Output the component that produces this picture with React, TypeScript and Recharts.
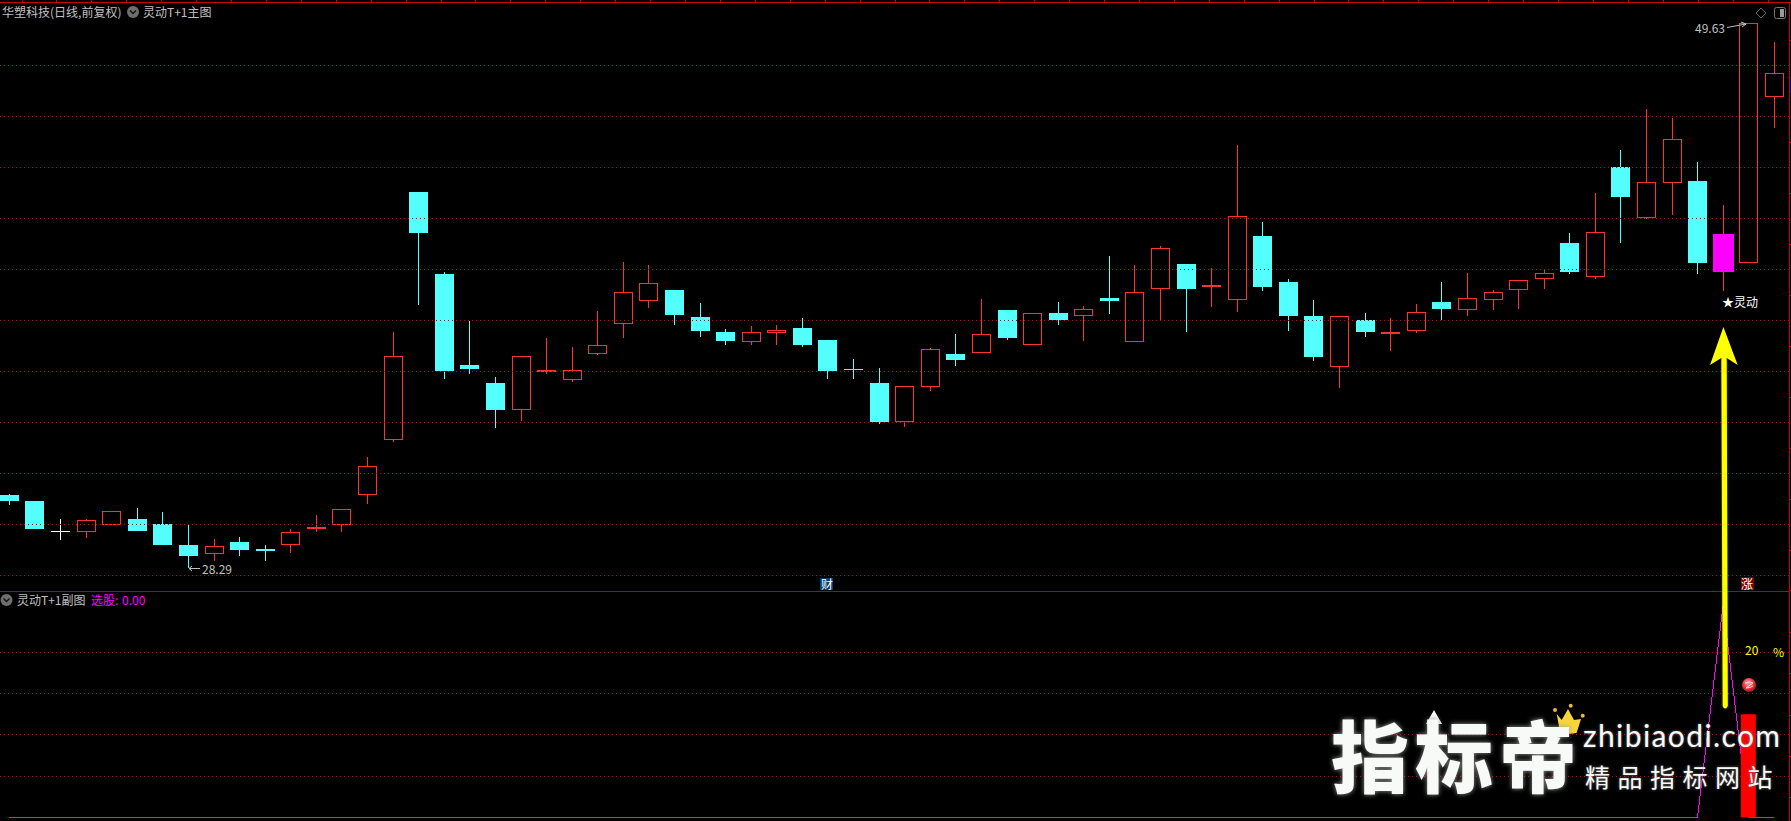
import React from 'react';
import { Bar, ComposedChart, Line, ReferenceLine, XAxis, YAxis } from 'recharts';

// daily prices, left to right
const opens = [31.16, 30.93, 29.74, 29.72, 30.0, 30.22, 30.02, 29.2, 28.86, 29.32, 29.05, 29.21, 29.83, 29.97, 31.17, 33.33, 43.02, 39.81, 36.25, 35.55, 34.5, 35.98, 35.67, 36.69, 37.87, 38.77, 39.19, 38.13, 37.54, 37.16, 37.51, 37.7, 37.23, 36.09, 35.55, 34.01, 35.4, 36.68, 36.73, 38.4, 37.05, 38.29, 38.18, 38.87, 37.16, 39.24, 40.2, 39.3, 38.81, 41.3, 39.5, 38.17, 36.18, 38.01, 37.46, 37.59, 38.72, 38.41, 38.81, 39.2, 39.63, 41.03, 39.71, 44.0, 42.02, 43.39, 43.45, 41.38, 40.26, 46.76];
const closes = [30.93, 29.83, 29.74, 30.17, 30.52, 29.75, 29.2, 28.77, 29.15, 29.01, 28.97, 29.7, 29.91, 30.6, 32.3, 36.59, 41.42, 36.02, 36.09, 34.49, 36.59, 36.05, 36.04, 37.02, 39.1, 39.45, 38.21, 37.58, 37.19, 37.53, 37.61, 37.03, 36.02, 36.05, 34.02, 35.42, 36.87, 36.45, 37.45, 37.31, 38.27, 38.01, 38.43, 38.76, 39.1, 40.82, 39.23, 39.38, 42.07, 39.3, 38.17, 36.56, 38.16, 37.54, 37.54, 38.31, 38.44, 38.86, 39.1, 39.57, 39.84, 39.89, 41.47, 42.83, 43.4, 45.09, 40.24, 39.89, 49.63, 47.67];
const highs = [31.2, 30.93, 30.22, 30.22, 30.52, 30.65, 30.49, 30.02, 29.44, 29.52, 29.2, 29.83, 30.38, 30.6, 32.65, 37.54, 43.02, 39.89, 37.97, 35.78, 36.59, 37.31, 36.95, 38.36, 40.28, 40.17, 39.19, 38.68, 37.66, 37.78, 37.82, 38.09, 37.23, 36.48, 36.13, 35.42, 36.92, 37.46, 38.83, 38.4, 38.27, 38.72, 38.56, 40.52, 40.17, 40.91, 40.2, 40.05, 44.86, 41.85, 39.62, 38.79, 38.16, 38.29, 38.09, 38.64, 39.5, 39.85, 39.19, 39.57, 39.97, 41.42, 42.98, 44.67, 46.27, 45.92, 44.2, 42.53, 49.63, 48.9];
const lows = [30.77, 29.83, 29.41, 29.48, 30.0, 29.75, 29.2, 28.29, 28.58, 28.77, 28.58, 28.89, 29.71, 29.71, 30.81, 33.25, 38.6, 35.7, 35.9, 33.78, 34.06, 35.9, 35.58, 36.64, 37.31, 38.48, 37.82, 37.35, 37.03, 37.03, 37.03, 36.95, 35.7, 35.7, 33.94, 33.82, 35.23, 36.21, 36.73, 37.23, 37.05, 37.82, 37.19, 38.25, 37.16, 38.01, 37.54, 38.52, 38.32, 39.15, 37.58, 36.41, 35.35, 37.35, 36.8, 37.5, 38.01, 38.17, 38.4, 38.44, 39.24, 39.81, 39.63, 41.03, 41.98, 42.12, 39.81, 39.15, 40.26, 45.53];

// the only day flagged by the formula (magenta candle)
const signalDay = 67;

const mainGridPrices = [47.98, 45.98, 43.98, 41.99, 39.99, 38.0, 36.0, 34.0, 32.0, 30.0, 28.01];
const subGridValues = [5, 10, 15, 20];

// lower panel: purple line + red bar
const subLineValues = [0, 0, 0, 0, 0, 0, 0, 0, 0, 0, 0, 0, 0, 0, 0, 0, 0, 0, 0, 0, 0, 0, 0, 0, 0, 0, 0, 0, 0, 0, 0, 0, 0, 0, 0, 0, 0, 0, 0, 0, 0, 0, 0, 0, 0, 0, 0, 0, 0, 0, 0, 0, 0, 0, 0, 0, 0, 0, 0, 0, 0, 0, 0, 0, 0, 0, 0, 25.7, 0, 0];
const subBarValues = [0, 0, 0, 0, 0, 0, 0, 0, 0, 0, 0, 0, 0, 0, 0, 0, 0, 0, 0, 0, 0, 0, 0, 0, 0, 0, 0, 0, 0, 0, 0, 0, 0, 0, 0, 0, 0, 0, 0, 0, 0, 0, 0, 0, 0, 0, 0, 0, 0, 0, 0, 0, 0, 0, 0, 0, 0, 0, 0, 0, 0, 0, 0, 0, 0, 0, 0, 0, 12.5, 0];

const RED = '#ff3232';
const CYAN = '#54ffff';
const GRID = '#c80000';
const GREY = '#c0c0c0';
const CJK = '"Noto Sans CJK SC", sans-serif';
const AXIS_PADDING = { left: 0.4, right: 3 };

const candles = opens.map((open, i) => ({
  day: i,
  open,
  close: closes[i],
  high: highs[i],
  low: lows[i],
  range: [lows[i], highs[i]],
}));
const subData = subLineValues.map((value, i) => ({ day: i, value, bar: subBarValues[i] }));

function Candle(props: any) {
  const { x, y, width, height, payload } = props;
  const { open, close, high, low, day } = payload;
  const perUnit = height / (high - low);
  const toY = (price: number) => y + (high - price) * perUnit;
  const cx = Math.round(x + width / 2);
  const top = Math.round(toY(Math.max(open, close)));
  const bottom = Math.round(toY(Math.min(open, close)));
  const left = cx - 9;
  const wick = { x1: cx + 0.5, x2: cx + 0.5 };

  if (open === close) {
    return (
      <g shapeRendering="crispEdges">
        <line {...wick} y1={y} y2={y + height} stroke="#fff" />
        <line x1={left} x2={left + 19} y1={top + 0.5} y2={top + 0.5} stroke="#fff" />
      </g>
    );
  }
  if (day === signalDay) {
    return (
      <g shapeRendering="crispEdges">
        <line {...wick} y1={y} y2={y + height} stroke={RED} />
        <rect x={left - 1} y={top} width={21} height={bottom - top} fill="#ff00ff" />
      </g>
    );
  }
  if (close < open) {
    return (
      <g shapeRendering="crispEdges">
        <line {...wick} y1={y} y2={y + height} stroke={CYAN} />
        <rect x={left} y={top} width={19} height={Math.max(bottom - top, 1)} fill={CYAN} />
      </g>
    );
  }
  // rising days are hollow, the box hides the wick behind it
  return (
    <g shapeRendering="crispEdges">
      <line {...wick} y1={y} y2={top} stroke={RED} />
      <line {...wick} y1={bottom} y2={y + height} stroke={RED} />
      <rect x={left + 0.5} y={top + 0.5} width={18} height={Math.max(bottom - top - 1, 1)} fill="#000" stroke={RED} />
    </g>
  );
}

const label = (left: number, top: number, color: string, size = 12): React.CSSProperties => ({
  position: 'absolute',
  left,
  top,
  color,
  fontSize: size,
  lineHeight: `${size + 2}px`,
  fontFamily: CJK,
  whiteSpace: 'nowrap',
});

function Chevron({ cx, cy }: { cx: number; cy: number }) {
  return (
    <g>
      <circle cx={cx} cy={cy} r={6} fill="#6e6e6e" />
      <path d={`M${cx - 3} ${cy - 1.5}L${cx} ${cy + 1.5}L${cx + 3} ${cy - 1.5}`} fill="none" stroke="#111" strokeWidth={1.4} />
    </g>
  );
}

const topTicks = Array.from({ length: 51 }, (_, i) => 22 + i * 34.92);
const rightTicks = [40, 91, 142, 193, 244, 295, 346, 397, 448, 499, 550, 590, 632, 673, 715, 756, 797];

function Decorations() {
  return (
    <svg width={1791} height={821} style={{ position: 'absolute', left: 0, top: 0 }}>
      <defs>
        <radialGradient id="ball" cx="45%" cy="35%" r="70%">
          <stop offset="0%" stopColor="#ffb0b0" />
          <stop offset="55%" stopColor="#e8323c" />
          <stop offset="100%" stopColor="#a01018" />
        </radialGradient>
        <filter id="glow" x="-30%" y="-10%" width="160%" height="120%">
          <feGaussianBlur stdDeviation="1.6" />
        </filter>
      </defs>
      {/* frame */}
      <g shapeRendering="crispEdges">
        <line x1={0} x2={1791} y1={2.5} y2={2.5} stroke={GRID} />
        <line x1={1789.5} x2={1789.5} y1={2} y2={821} stroke={GRID} />
        <line x1={0} x2={1790} y1={591.5} y2={591.5} stroke="#b40000" />
        {topTicks.map((x) => (
          <line key={x} x1={x} x2={x} y1={0} y2={3} stroke={GRID} />
        ))}
        {rightTicks.map((y) => (
          <line key={y} x1={1789} x2={1791} y1={y} y2={y} stroke={GRID} />
        ))}
        <rect x={1790} y={77} width={1} height={16} fill="#000090" />
      </g>

      <Chevron cx={133} cy={12} />
      <Chevron cx={6.5} cy={600} />

      {/* top right buttons */}
      <path d="M1761 8L1766 13L1761 18L1756 13Z" fill="none" stroke="#666" />
      <rect x={1774.5} y={7.5} width={11} height={11} rx={2} fill="none" stroke="#777" />
      <rect x={1780} y={9} width={4} height={8} fill="#999" />

      {/* price markers */}
      <path d="M1727 27.5L1746 24M1741 22L1746 24L1742 27" fill="none" stroke={GREY} />
      <path d="M200 568.5H189M192 566L189 568.5L192 571" fill="none" stroke={GREY} />

      {/* badges */}
      <rect x={820} y={578} width={13} height={12} fill="#0a3a6e" />
      <rect x={1741} y={577} width={13} height={13} fill="#7a0000" />
      <circle cx={1749} cy={685} r={7} fill="url(#ball)" />
      <path d="M1745 683Q1750 681 1753 683L1746 688Q1750 688 1753 686" fill="none" stroke="#ffe0e0" strokeWidth={1} />

      {/* big yellow arrow */}
      <path d="M1722 360L1723 708H1727.5L1726.5 360Z" fill="#ffff00" opacity={0.45} filter="url(#glow)" />
      <path d="M1723.4 327L1737.7 365L1726.7 358L1727.8 706Q1725 711 1722.7 706L1721.3 358L1710 365Z" fill="#ffff00" />

      {/* crown and arrow of the watermark */}
      <path d="M1556.7 714L1561.7 720L1568 709L1574 720L1581 719L1576.7 732.7Q1568 735 1560 731.7Z" fill="#f7d63c" />
      <circle cx={1555} cy={710} r={2} fill="#e8b93a" />
      <circle cx={1570.7} cy={705.7} r={2} fill="#e8b93a" />
      <circle cx={1582.7} cy={715.7} r={2} fill="#e8b93a" />
      <path d="M1434 710L1442 724H1426Z" fill="#f8faf8" />
    </svg>
  );
}

export default function App() {
  return (
    <div style={{ position: 'fixed', inset: 0, background: '#000', overflow: 'hidden' }}>
      <div style={{ position: 'absolute', left: -4, top: 0 }}>
        <ComposedChart width={1794} height={592} data={candles} margin={{ top: 0, right: 0, bottom: 0, left: 0 }} barCategoryGap={0}>
          <XAxis dataKey="day" hide padding={AXIS_PADDING} />
          <YAxis hide domain={[27.362, 50.542]} allowDataOverflow />
          {mainGridPrices.map((price) => (
            <ReferenceLine key={price} y={price} stroke={GRID} strokeDasharray="1 3" shapeRendering="crispEdges" />
          ))}
          <Bar dataKey="range" barSize={19} shape={<Candle />} isAnimationActive={false} />
        </ComposedChart>
      </div>

      <div style={{ position: 'absolute', left: -4, top: 592 }}>
        <ComposedChart width={1794} height={226} data={subData} margin={{ top: 0, right: 0, bottom: 0, left: 0 }}>
          <XAxis dataKey="day" hide scale="band" padding={AXIS_PADDING} />
          <YAxis hide domain={[-0.06, 27.33]} allowDataOverflow />
          {subGridValues.map((v) => (
            <ReferenceLine key={v} y={v} stroke={GRID} strokeDasharray="1 3" shapeRendering="crispEdges" />
          ))}
          <Line dataKey="value" stroke="#ff00ff" strokeWidth={1} dot={false} shapeRendering="crispEdges" isAnimationActive={false} />
        </ComposedChart>
      </div>

      {/* separate layer so the red bar covers the purple line */}
      <div style={{ position: 'absolute', left: -4, top: 592 }}>
        <ComposedChart width={1794} height={226} data={subData} margin={{ top: 0, right: 0, bottom: 0, left: 0 }}>
          <XAxis dataKey="day" hide scale="band" padding={AXIS_PADDING} />
          <YAxis hide domain={[-0.06, 27.33]} allowDataOverflow />
          <Bar dataKey="bar" barSize={15} fill="#ff0000" isAnimationActive={false} />
        </ComposedChart>
      </div>

      <Decorations />

      <div style={label(2, 5, GREY)}>华塑科技(日线,前复权)</div>
      <div style={label(143, 5, GREY)}>灵动T+1主图</div>
      <div style={label(17, 593, GREY)}>灵动T+1副图</div>
      <div style={label(91, 593, '#ff00ff')}>选股:</div>
      <div style={label(122, 593, '#ff00ff')}>0.00</div>
      <div style={label(1695, 21, GREY)}>49.63</div>
      <div style={label(202, 562, GREY)}>28.29</div>
      <div style={label(1722, 295, '#fff')}>★灵动</div>
      <div style={label(821, 577, '#fff')}>财</div>
      <div style={label(1741, 577, '#fff')}>涨</div>
      <div style={label(1745, 643, '#ffff00')}>20</div>
      <div style={label(1773, 645, '#ffff00')}>%</div>

      {/* site watermark */}
      <div style={{ ...label(1331, 703, '#f8faf8', 78), fontWeight: 900, letterSpacing: 6, textShadow: '0 0 5px #999', lineHeight: '100px' }}>指标帝</div>
      <div style={{ ...label(1583, 718, '#f8faf8', 30), fontFamily: 'Lato, sans-serif', letterSpacing: 1.4, textShadow: '0 0 3px #777', lineHeight: '34px' }}>zhibiaodi.com</div>
      <div style={{ ...label(1585, 760, '#f8faf8', 25), letterSpacing: 7.5, textShadow: '0 0 3px #777', lineHeight: '32px' }}>精品指标网站</div>
    </div>
  );
}
